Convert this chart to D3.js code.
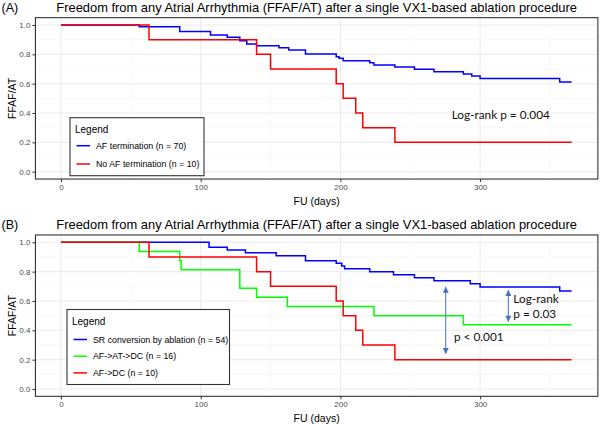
<!DOCTYPE html>
<html><head><meta charset="utf-8">
<script src="https://cdn.jsdelivr.net/npm/d3@7"></script>
<style>body{margin:0;background:#fff}svg{display:block}</style>
</head><body><svg id="c" width="600" height="425"></svg>
<script>
// ---- data ----
const xTicks = [0, 100, 200, 300];
const xMinor = [50, 150, 250, 350];
const yTicks = [0, 0.2, 0.4, 0.6, 0.8, 1.0];
const yMinor = [0.1, 0.3, 0.5, 0.7, 0.9];

const titleA = "Freedom from any Atrial Arrhythmia (FFAF/AT) after a single VX1-based ablation procedure";
const titleB = titleA;

// Panel A
const blueA_t = [0, 56, 85, 107, 119, 128, 133, 140, 156, 163, 175, 197, 199, 202, 221, 224, 239, 253, 267, 288, 294, 300, 357, 365.5];
const blueA_s = [1, 0.988, 0.955, 0.932, 0.916, 0.893, 0.871, 0.859, 0.845, 0.830, 0.802, 0.784, 0.773, 0.757, 0.743, 0.728, 0.714, 0.698, 0.682, 0.666, 0.653, 0.636, 0.611, 0.611];
const redA_t = [0, 63, 140, 150, 197, 202, 211, 216, 239, 365.5];
const redA_s = [1, 0.9, 0.8, 0.7, 0.6, 0.5, 0.4, 0.3, 0.2, 0.2];
const legendA = ["AF termination (n = 70)", "No AF termination (n = 10)"];

// Panel B
const blueB_t = [0, 106, 119, 132, 154, 175, 197, 201, 203, 221, 238, 253, 267, 293, 300, 357, 365.5];
const blueB_s = [1, 0.966, 0.948, 0.929, 0.909, 0.875, 0.857, 0.839, 0.819, 0.800, 0.779, 0.759, 0.738, 0.718, 0.695, 0.668, 0.668];
const greenB_t = [0, 56, 85, 86, 128, 140, 162, 224, 288, 365.5];
const greenB_s = [1, 0.9375, 0.875, 0.8125, 0.6875, 0.625, 0.5625, 0.5, 0.4375, 0.4375];
const redB_t = [0, 63, 140, 150, 197, 202, 211, 216, 239, 365.5];
const redB_s = [1, 0.9, 0.8, 0.7, 0.6, 0.5, 0.4, 0.3, 0.2, 0.2];
const legendB = ["SR conversion by ablation (n = 54)", "AF->AT->DC (n = 16)", "AF->DC (n = 10)"];

// annotations: [day, survival, text]
const annA = [[279.7, 0.359, "Log-rank p = 0.004"]];
const annB = [[323.8, 0.584, "Log-rank"], [323.8, 0.482, "p = 0.03"], [281.3, 0.327, "p < 0.001"]];
const arrowsB = [[275.4, 0.697, 0.239], [320.2, 0.675, 0.459]];

// ---- drawing ----
const svg = d3.select("#c");
const defs = svg.append("defs");
["s","e"].forEach(k=>{
  const m = defs.append("marker").attr("id","ah"+k).attr("viewBox","0 0 10 10")
    .attr("refX", 10).attr("refY",5).attr("markerWidth",7).attr("markerHeight",6)
    .attr("markerUnits","userSpaceOnUse").attr("orient","auto-start-reverse");
  m.append("path").attr("d","M0,0L10,5L0,10z").attr("fill","#4472C4");
});

const COL = {blue:"#0000FF", red:"#FF0000", green:"#00FF00"};
const x = d3.scaleLinear().domain([0, 366]).range([61, 572.3]);
const xL = x(-18.3), xR = x(384.3);

function panel(y0, y1, label, title, series, legend, legendBox, anns, arrows) {
  const y = d3.scaleLinear().domain([0, 1]).range([y0, y1]);
  const pt = y(1.05), pb = y(-0.05);
  const g = svg.append("g");
  g.append("rect").attr("x", xL).attr("y", pt).attr("width", xR - xL).attr("height", pb - pt).attr("fill", "#fff");
  // grid
  g.selectAll(".gxm").data(xMinor).join("line").attr("x1", d=>x(d)).attr("x2", d=>x(d)).attr("y1", pt).attr("y2", pb)
    .attr("stroke", "#F2F2F2").attr("stroke-width", 0.6);
  g.selectAll(".gym").data(yMinor).join("line").attr("y1", d=>y(d)).attr("y2", d=>y(d)).attr("x1", xL).attr("x2", xR)
    .attr("stroke", "#F2F2F2").attr("stroke-width", 0.6);
  g.selectAll(".gx").data(xTicks).join("line").attr("x1", d=>x(d)).attr("x2", d=>x(d)).attr("y1", pt).attr("y2", pb)
    .attr("stroke", "#EBEBEB").attr("stroke-width", 1.1);
  g.selectAll(".gy").data(yTicks).join("line").attr("y1", d=>y(d)).attr("y2", d=>y(d)).attr("x1", xL).attr("x2", xR)
    .attr("stroke", "#EBEBEB").attr("stroke-width", 1.1);
  // axes
  const ax = g.append("g").attr("transform", `translate(0,${pb})`)
    .call(d3.axisBottom(x).tickValues(xTicks).tickSize(3).tickPadding(2).tickFormat(d3.format("d")));
  const ay = g.append("g").attr("transform", `translate(${xL},0)`)
    .call(d3.axisLeft(y).tickValues(yTicks).tickSize(3).tickPadding(2).tickFormat(d3.format(".1f")));
  [ax, ay].forEach(a => {
    a.select(".domain").remove();
    a.selectAll(".tick line").attr("stroke", "#333");
    a.selectAll(".tick text").attr("fill", "#4D4D4D").style("font", "8px 'Liberation Sans', Arial, sans-serif");
  });
  // border
  g.append("rect").attr("x", xL).attr("y", pt).attr("width", xR - xL).attr("height", pb - pt)
    .attr("fill", "none").attr("stroke", "#333").attr("stroke-width", 1.1);
  // curves
  const line = d3.line().x(d=>x(d[0])).y(d=>y(d[1])).curve(d3.curveStepAfter);
  series.forEach(s => {
    g.append("path").datum(d3.zip(s.t, s.s)).attr("d", line).attr("fill", "none")
      .attr("stroke", s.c).attr("stroke-width", 1.5);
  });
  // arrows
  (arrows||[]).forEach(a => {
    g.append("line").attr("x1", x(a[0])).attr("x2", x(a[0])).attr("y1", y(a[1])).attr("y2", y(a[2]))
      .attr("stroke", "#4472C4").attr("stroke-width", 1)
      .attr("marker-start", "url(#ahs)").attr("marker-end", "url(#ahe)");
  });
  // annotations
  anns.forEach(a => {
    g.append("text").attr("x", x(a[0])).attr("y", y(a[1])).text(a[2])
      .style("font", "11.8px Lato, 'Open Sans', sans-serif").attr("fill", "#111");
  });
  // labels
  svg.append("text").attr("x", 1.5).attr("y", pt - 5.5).text(label)
    .style("font", "12.5px 'Liberation Sans', Arial, sans-serif");
  svg.append("text").attr("x", (xL + xR) / 2).attr("y", pt - 6).attr("text-anchor", "middle").text(title)
    .style("font", "12.9px 'Liberation Sans', Arial, sans-serif");
  svg.append("text").attr("x", (xL + xR) / 2).attr("y", pb + 26).attr("text-anchor", "middle").text("FU (days)")
    .style("font", "10.5px 'Liberation Sans', Arial, sans-serif");
  svg.append("text").attr("transform", `translate(15.5,${(pt + pb) / 2}) rotate(-90)`).attr("text-anchor", "middle")
    .text("FFAF/AT").style("font", "10.5px 'Liberation Sans', Arial, sans-serif");
  // legend
  const lb = legendBox;
  const lg = svg.append("g");
  lg.append("rect").attr("x", lb.x).attr("y", lb.y).attr("width", lb.w).attr("height", lb.h)
    .attr("fill", "#fff").attr("stroke", "#333").attr("stroke-width", 1.1);
  lg.append("text").attr("x", lb.x + 5).attr("y", lb.y + 15.5).text("Legend")
    .style("font", "10px 'Liberation Sans', Arial, sans-serif");
  legend.forEach((txt, i) => {
    const yy = lb.y + lb.ey0 + i * lb.dy;
    lg.append("line").attr("x1", lb.x + 6.5).attr("x2", lb.x + 20).attr("y1", yy).attr("y2", yy)
      .attr("stroke", series[lb.order[i]].c).attr("stroke-width", 1.5);
    lg.append("text").attr("x", lb.x + 26).attr("y", yy + 3).text(txt)
      .style("font", "8.8px 'Liberation Sans', Arial, sans-serif");
  });
}

panel(171.7, 25, "(A)", titleA,
  [{t: blueA_t, s: blueA_s, c: COL.blue}, {t: redA_t, s: redA_s, c: COL.red}],
  legendA, {x: 70, y: 117.7, w: 134, h: 58, ey0: 28, dy: 18.3, order: [0, 1]}, annA, null);

panel(389, 242.3, "(B)", titleB,
  [{t: blueB_t, s: blueB_s, c: COL.blue}, {t: greenB_t, s: greenB_s, c: COL.green}, {t: redB_t, s: redB_s, c: COL.red}],
  legendB, {x: 67, y: 309.5, w: 162.5, h: 75, ey0: 30, dy: 16.7, order: [0, 1, 2]}, annB, arrowsB);
</script></body></html>
